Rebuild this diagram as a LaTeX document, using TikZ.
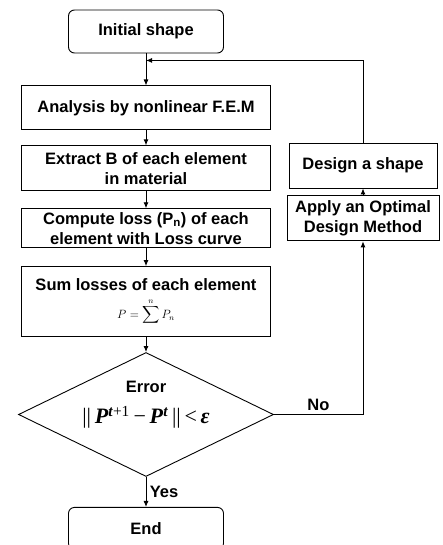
\documentclass[tikz,border=0pt]{standalone}
\usepackage{amsmath}
\usepackage{fontspec}
\setmainfont{Liberation Sans}
\newfontfamily\serifbody{Liberation Serif}
\usetikzlibrary{positioning}
\usetikzlibrary{calc}
\usetikzlibrary{shapes.geometric}
\usetikzlibrary{arrows.meta}

\begin{document}
\begin{tikzpicture}[
    >={Latex[length=6pt,width=5pt]},
    line width=0.9pt,
    node distance=15pt,
    font=\fontsize{16.5}{20}\selectfont\bfseries
]
\tikzstyle{block}=[rectangle, draw, minimum width=249pt, minimum height=44pt, inner sep=2pt, align=center]
\tikzstyle{term}=[rectangle, draw, rounded corners=6pt, minimum width=155pt, minimum height=43pt]
\tikzstyle{side}=[rectangle, draw, minimum width=150pt, minimum height=45pt, inner sep=2pt, align=center]
\tikzstyle{decide}=[diamond, draw, minimum width=255pt, minimum height=124pt, inner sep=0pt]

\useasboundingbox (0,0) rectangle (442pt,-545pt);

% Main loop
\node[term] (init) at (146pt,-31.5pt) {Initial shape};
\node[block, below=32pt of init] (fem) {Analysis by nonlinear F.E.M};
\node[block, below=of fem, minimum height=45pt] (extract) {Extract B of each element\\in material};
\node[block, below=17pt of extract, minimum height=39pt] (loss) {Compute loss (P\textsubscript{n}) of each\\element with Loss curve};
\node[block, below=18pt of loss, minimum height=70pt] (sum) {Sum losses of each element\\[8pt]\fontsize{12}{14}\selectfont$\displaystyle P=\sum\limits^{n}P_{n}$};

% Convergence check
\node[decide, below=of sum] (dia) {};
\node at ($(dia.center)+(0,28pt)$) (err) {Error};
\node at ($(dia.center)+(0,-3pt)$) (crit) {\serifbody\fontsize{22}{26}\selectfont
  \mdseries||\,\textbf{\textit{P}}\textsuperscript{\textbf{\textit{t}}+1}\,−\,\textbf{\textit{P}}\textsuperscript{\textbf{\textit{t}}}\,||\,<\,\textbf{\textit{ε}}};
\node[term, below=30pt of dia, minimum height=42pt] (end) {End};

% Shape update
\node[side, minimum width=148pt] (design) at (363pt,-165.5pt) {Design a shape};
\node[side, below=7pt of design, minimum width=152pt] (apply) {Apply an Optimal\\Design Method};

% Connections
\coordinate (join) at ($(init.south)+(0,-7pt)$);
\draw[->] (init) -- (fem);
\draw[->] (fem) -- (extract);
\draw[->] (extract) -- (loss);
\draw[->] (loss) -- (sum);
\draw[->] (sum) -- (dia);
\draw[->] (dia) -- node[right] {Yes} (end);
\draw[->] (dia.east) -| node[pos=0.25, above] {No} (apply.south);
\draw[->] (apply) -- (design);
\draw[->] (design.north) |- (join);

\end{tikzpicture}
\end{document}
